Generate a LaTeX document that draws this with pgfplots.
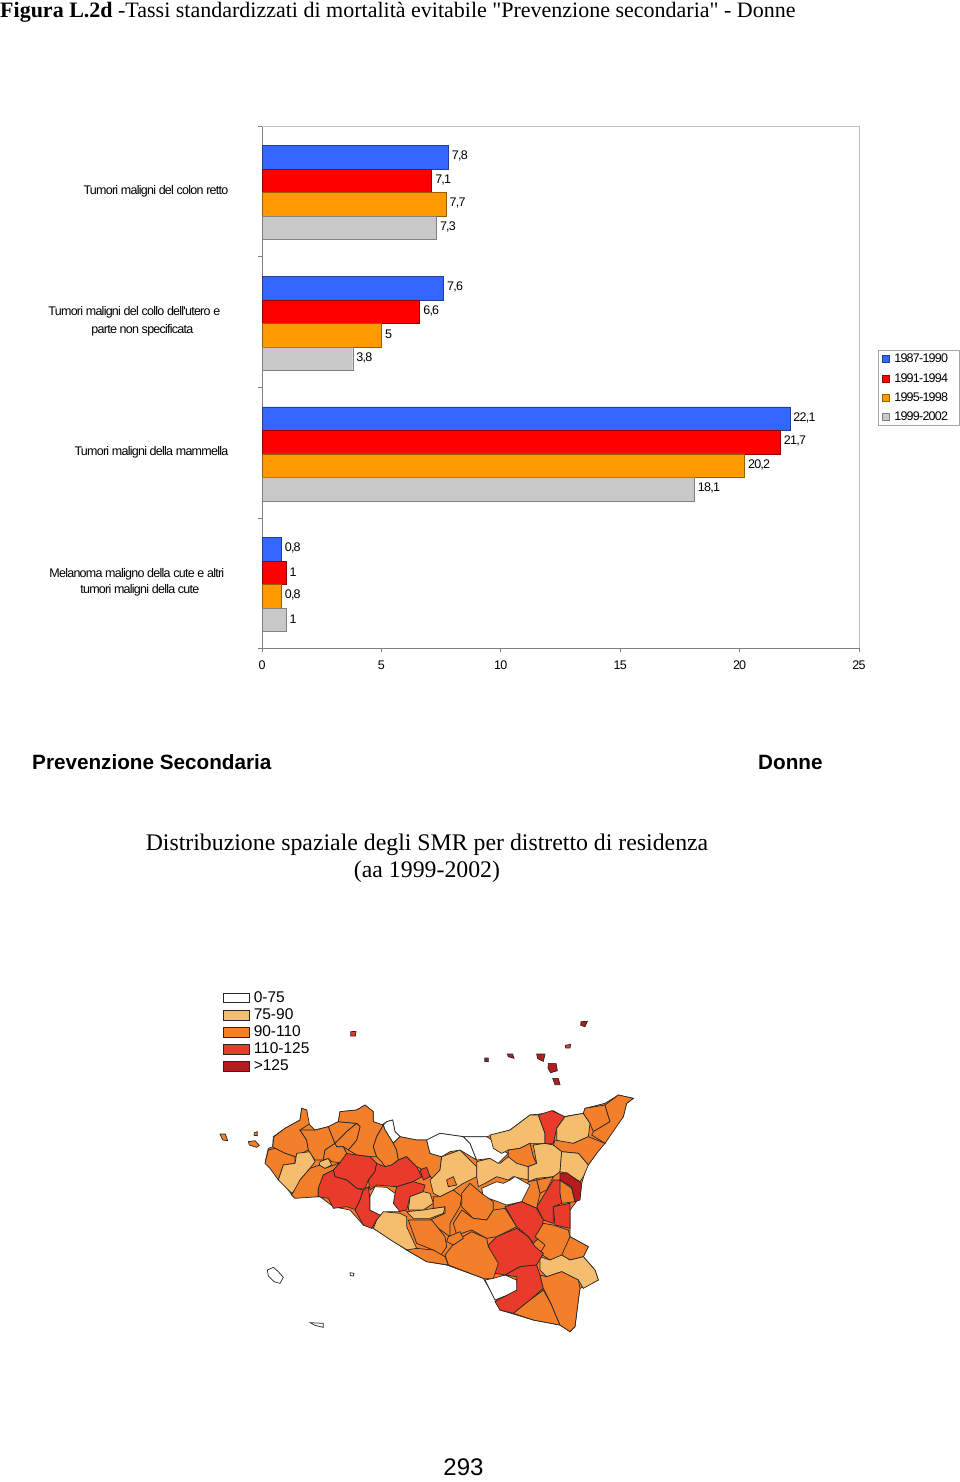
\documentclass[border=0pt]{standalone}
\usepackage{fontspec}
\setmainfont{Liberation Sans}
\newfontfamily\serifttl{Liberation Serif}
\newfontfamily\tight[LetterSpace=-6]{Liberation Sans}
\usepackage{pgfplots}
\pgfplotsset{compat=1.18}

\definecolor{cblue}{HTML}{3366FF}
\definecolor{cred}{HTML}{FF0000}
\definecolor{corange}{HTML}{FF9900}
\definecolor{cgrey}{HTML}{C8C8C8}
\definecolor{axgrey}{HTML}{808080}
\definecolor{mlight}{HTML}{F4BE6E}
\definecolor{morange}{HTML}{F47F2A}
\definecolor{mred}{HTML}{E83B2B}
\definecolor{mdark}{HTML}{B71C1C}

\pgfplotsset{
  m0/.style={forget plot,fill=white,draw=black!85,line width=.7pt},
  m1/.style={forget plot,fill=mlight,draw=black!85,line width=.7pt},
  m2/.style={forget plot,fill=morange,draw=black!85,line width=.7pt},
  m3/.style={forget plot,fill=mred,draw=black!85,line width=.7pt},
  m4/.style={forget plot,fill=mdark,draw=black!85,line width=.7pt},
}

\begin{document}
\begin{tikzpicture}[x=1pt,y=1pt]
\path[use as bounding box] (0,0) rectangle (960,-1482);

% texts around the charts
\node[anchor=base west,inner sep=0pt,font=\serifttl\fontsize{22}{24}\selectfont] at (0,-18)
  {\textbf{Figura L.2d} -Tassi standardizzati di mortalità evitabile "Prevenzione secondaria" - Donne};
\node[anchor=base west,inner sep=0pt,font=\fontsize{20.7}{24}\selectfont\bfseries] at (32,-769) {Prevenzione Secondaria};
\node[anchor=base west,inner sep=0pt,font=\fontsize{20.7}{24}\selectfont\bfseries] at (758,-769) {Donne};
\node[anchor=base,inner sep=0pt,font=\serifttl\fontsize{23.8}{27}\selectfont] at (427,-850) {Distribuzione spaziale degli SMR per distretto di residenza};
\node[anchor=base,inner sep=0pt,font=\serifttl\fontsize{23.8}{27}\selectfont] at (427,-877) {(aa 1999-2002)};
\node[anchor=base,inner sep=0pt,font=\fontsize{24}{27}\selectfont] at (463.5,-1475) {293};

% bar chart
\begin{axis}[
  at={(262pt,-126pt)},anchor=north west,
  scale only axis,width=597pt,height=522pt,
  xbar,bar width=23.5pt,
  xmin=0,xmax=25,
  ymin=-0.51,ymax=3.485,y dir=reverse,
  axis y line*=left,axis x line*=bottom,
  axis line style={draw=axgrey,line width=.8pt,-},
  xtick={0,5,10,15,20,25},
  ytick={0,1,2,3},
  yticklabels={
    {Tumori maligni del colon retto},
    {\begin{tabular}{@{}c@{}}Tumori maligni del collo dell'utero e\\[4pt]\hspace*{16pt}parte non specificata\end{tabular}\kern8pt},
    {Tumori maligni della mammella},
    {\begin{tabular}{@{}c@{}}Melanoma maligno della cute e altri\\[2pt]\hspace*{6pt}tumori maligni della cute\end{tabular}\kern4pt},
  },
  minor ytick={-0.51,0.49,1.49,2.49,3.485},
  tick align=outside,
  major tick length=4pt,minor tick length=4pt,
  y tick style={draw=none},
  minor y tick style={draw=axgrey,line width=.8pt},
  x tick style={draw=axgrey,line width=.8pt},
  x tick label style={font=\tight\fontsize{12.5}{14}\selectfont,yshift=-5pt},
  y tick label style={font=\tight\fontsize{12.5}{14}\selectfont,xshift=-29.5pt,yshift=1.5pt,inner sep=0pt},
  /pgf/number format/assume math mode=true,
  /pgf/number format/use comma,
  /pgf/number format/fixed,
  /pgf/number format/precision=1,
  point meta=x,
  nodes near coords,
  nodes near coords style={font=\tight\fontsize{12.5}{14}\selectfont,anchor=west,yshift=1pt,xshift=0pt,inner xsep=3.5pt},
  clip=false,
  legend image code/.code={\draw[#1,line width=.8pt] (0pt,-3.5pt) rectangle (7pt,3.5pt);},
  legend style={at={(1.0318,0.571)},anchor=north west,draw=axgrey!70,line width=1pt,
    font=\tight\fontsize{12.5}{14}\selectfont,legend cell align=left,
    inner xsep=4pt,inner ysep=1.5pt,row sep=5.2pt,
    /tikz/every odd column/.style={column sep=2pt}},
]
\addplot[fill=cblue,draw=cblue!60!black,bar shift=35.25pt] coordinates {(7.8,0) (7.6,1) (22.1,2) (0.8,3)};
\addplot[fill=cred,draw=cred!60!black,bar shift=11.75pt] coordinates {(7.1,0) (6.6,1) (21.7,2) (1,3)};
\addplot[fill=corange,draw=corange!60!black,bar shift=-11.75pt] coordinates {(7.7,0) (5,1) (20.2,2) (0.8,3)};
\addplot[fill=cgrey,draw=axgrey,bar shift=-35.25pt] coordinates {(7.3,0) (3.8,1) (18.1,2) (1,3)};
\legend{1987-1990\kern5pt,1991-1994\kern5pt,1995-1998\kern5pt,1999-2002\kern5pt}
\draw[draw=black!25,line width=.8pt] (rel axis cs:0,1) -- (rel axis cs:1,1) -- (rel axis cs:1,0);
\end{axis}

% district map, coordinates read in a 3x grid from (200,980)
\begin{axis}[
  at={(200pt,-980pt)},anchor=north west,
  scale only axis,width=450pt,height=360pt,
  xmin=0,xmax=1350,ymin=0,ymax=1080,y dir=reverse,
  hide axis,clip=false,
  legend image code/.code={\draw[#1,line width=.6pt] (0pt,-4.7pt) rectangle (26pt,4.7pt);},
  legend style={at={(0.051,0.973)},anchor=north west,draw=none,fill=none,
    font=\fontsize{15.5}{17}\selectfont,legend cell align=left,
    inner sep=0pt,row sep=0.7pt,
    /tikz/every odd column/.style={column sep=2pt}},
]
\addlegendimage{fill=white,draw=black!85}
\addlegendentry{0-75}
\addlegendimage{fill=mlight,draw=black!85}
\addlegendentry{75-90}
\addlegendimage{fill=morange,draw=black!85}
\addlegendentry{90-110}
\addlegendimage{fill=mred,draw=black!85}
\addlegendentry{110-125}
\addlegendimage{fill=mdark,draw=black!85}
\addlegendentry{>125}
% island outline underneath
\addplot[m2] coordinates {(197,540)(205,505)(218,500)(220,470)(255,445)(300,420)(305,385)(320,390)(325,430)(345,450)(385,440)(415,425)(420,395)(470,390)(495,375)(520,395)(520,425)(545,435)(560,425)(578,420)(585,455)(600,470)(650,480)(680,480)(720,460)(790,470)(860,470)(930,450)(990,405)(1040,400)(1060,392)(1090,410)(1150,400)(1155,385)(1215,370)(1255,345)(1300,355)(1280,370)(1270,410)(1215,470)(1190,520)(1160,560)(1145,610)(1140,650)(1110,690)(1110,770)(1165,800)(1150,830)(1185,870)(1195,900)(1140,925)(1135,960)(1125,1040)(1110,1055)(1080,1035)(1000,1020)(950,1005)(900,990)(885,955)(850,895)(740,855)(680,845)(620,810)(520,745)(490,735)(450,690)(400,680)(360,650)(280,650)(230,585)(210,560)} --cycle;
% west
\addplot[m2] coordinates {(218,500)(222,470)(255,445)(300,420)(305,385)(320,390)(328,432)(300,450)(320,480)(325,510)(285,530)(255,520)(225,505)} --cycle;
\addplot[m2] coordinates {(205,510)(225,505)(255,520)(285,530)(285,550)(250,555)(235,600)(210,565)(195,550)} --cycle;
\addplot[m1] coordinates {(250,555)(285,550)(290,520)(330,515)(345,545)(330,565)(300,600)(295,620)(275,640)(235,600)} --cycle;
\addplot[m2] coordinates {(300,450)(345,450)(385,440)(405,490)(375,510)(370,540)(345,540)(325,510)(320,480)} --cycle;
\addplot[m2] coordinates {(275,645)(300,600)(330,565)(360,555)(375,565)(420,548)(400,570)(370,585)(355,625)(355,650)(285,655)} --cycle;
\addplot[m1] coordinates {(360,545)(385,535)(395,555)(375,565)(358,555)} --cycle;
\addplot[m2] coordinates {(385,440)(415,425)(470,430)(440,455)(405,490)} --cycle;
\addplot[m2] coordinates {(420,395)(470,390)(495,375)(520,395)(520,425)(550,435)(530,470)(520,500)(530,530)(510,530)(470,525)(445,510)(470,480)(480,440)(470,430)(415,425)} --cycle;
\addplot[m2] coordinates {(405,490)(440,455)(470,430)(480,440)(470,480)(445,510)(430,500)(410,500)} --cycle;
\addplot[m2] coordinates {(375,510)(405,490)(410,500)(430,500)(440,520)(430,545)(420,548)(395,545)(385,535)(370,540)} --cycle;
\addplot[m0] coordinates {(550,435)(560,425)(578,420)(585,455)(600,470)(580,490)(555,450)} --cycle;
\addplot[m2] coordinates {(550,435)(555,450)(580,490)(590,510)(595,540)(575,555)(555,560)(545,545)(530,530)(520,500)(530,470)} --cycle;
\addplot[m2] coordinates {(600,470)(650,480)(680,480)(690,520)(725,530)(720,570)(700,600)(680,575)(650,560)(620,530)(595,540)(590,510)(580,490)} --cycle;
\addplot[m3] coordinates {(420,548)(440,520)(470,525)(510,530)(530,550)(525,575)(505,600)(495,625)(470,625)(440,600)(405,590)(400,570)} --cycle;
\addplot[m3] coordinates {(355,625)(370,585)(400,570)(405,590)(440,600)(470,625)(490,630)(480,660)(470,690)(440,680)(400,685)(385,655)(355,650)} --cycle;
\addplot[m3] coordinates {(490,630)(505,620)(510,660)(510,690)(550,710)(530,720)(515,745)(490,735)(465,690)(480,660)} --cycle;
\addplot[m3] coordinates {(530,550)(555,560)(575,555)(595,540)(620,530)(650,560)(665,590)(640,605)(590,620)(530,615)(510,630)(505,600)(525,575)} --cycle;
\addplot[m3] coordinates {(660,570)(680,562)(690,590)(670,600)} --cycle;
\addplot[m3] coordinates {(590,620)(640,605)(675,615)(670,635)(630,650)(620,690)(595,695)(580,670)(585,640)} --cycle;
\addplot[m0] coordinates {(525,620)(560,622)(585,640)(580,670)(600,695)(560,695)(540,705)(510,690)(510,650)} --cycle;
\addplot[m1] coordinates {(550,695)(600,700)(620,710)(620,740)(650,805)(630,815)(580,785)(520,745)(530,720)} --cycle;
\addplot[m1] coordinates {(630,650)(670,635)(690,640)(700,670)(670,690)(625,690)} --cycle;
\addplot[m1] coordinates {(620,695)(670,690)(700,685)(735,680)(730,700)(690,715)(640,715)} --cycle;
% centre
\addplot[m1] coordinates {(725,530)(780,510)(830,560)(830,590)(790,610)(760,630)(720,650)(700,640)(690,600)(720,570)} --cycle;
\addplot[m2] coordinates {(740,600)(760,590)(770,615)(745,620)} --cycle;
\addplot[m1] coordinates {(830,545)(870,535)(900,550)(925,530)(985,560)(985,600)(940,590)(925,600)(890,590)(855,610)(835,620)(830,590)} --cycle;
\addplot[m0] coordinates {(680,480)(720,460)(790,470)(810,490)(830,540)(780,510)(750,515)(725,530)(690,520)} --cycle;
\addplot[m0] coordinates {(790,470)(860,470)(875,480)(880,500)(925,520)(895,550)(870,535)(830,540)(810,490)} --cycle;
% north east
\addplot[m1] coordinates {(870,465)(930,450)(990,405)(1015,405)(1035,460)(1035,490)(990,490)(960,505)(925,510)(905,520)(880,505)} --cycle;
\addplot[m3] coordinates {(1015,405)(1055,392)(1095,410)(1070,445)(1060,490)(1035,490)(1035,460)} --cycle;
\addplot[m1] coordinates {(1095,410)(1150,400)(1170,430)(1165,470)(1120,490)(1090,490)(1070,480)(1070,445)} --cycle;
\addplot[m2] coordinates {(1155,385)(1215,375)(1230,425)(1180,455)(1170,430)(1150,400)} --cycle;
\addplot[m2] coordinates {(1215,375)(1255,345)(1300,355)(1280,370)(1270,410)(1215,490)(1175,465)(1180,455)(1230,425)} --cycle;
\addplot[m2] coordinates {(1065,480)(1120,490)(1165,470)(1215,490)(1190,520)(1165,555)(1135,520)(1085,515)(1060,495)} --cycle;
\addplot[m2] coordinates {(925,510)(960,505)(990,490)(1000,530)(1010,550)(985,560)(950,550)(925,530)} --cycle;
\addplot[m1] coordinates {(1000,495)(1035,490)(1060,495)(1085,515)(1080,575)(1060,590)(1010,595)(985,605)(985,560)(1010,550)} --cycle;
\addplot[m1] coordinates {(1085,515)(1135,520)(1165,555)(1150,590)(1140,605)(1100,580)(1080,575)} --cycle;
\addplot[m2] coordinates {(1080,600)(1115,625)(1125,665)(1085,670)(1078,640)} --cycle;
\addplot[m4] coordinates {(1080,580)(1100,578)(1145,610)(1140,660)(1125,665)(1115,620)(1080,600)} --cycle;
\addplot[m3] coordinates {(1060,680)(1110,670)(1110,745)(1065,735)} --cycle;
\addplot[m3] coordinates {(1060,600)(1080,600)(1080,640)(1085,670)(1060,680)(1060,730)(1030,720)(1010,680)(1035,640)} --cycle;
\addplot[m2] coordinates {(1010,600)(1060,590)(1040,630)(1020,640)} --cycle;
\addplot[m2] coordinates {(985,605)(1010,600)(1020,640)(1010,685)(965,665)} --cycle;
\addplot[m0] coordinates {(845,625)(890,605)(910,610)(930,600)(945,590)(990,615)(965,665)(920,675)(880,660)(850,650)} --cycle;
\addplot[m2] coordinates {(810,610)(845,640)(880,665)(880,690)(860,720)(820,715)(785,680)(785,640)} --cycle;
\addplot[m2] coordinates {(700,650)(720,650)(760,630)(785,650)(780,680)(750,730)(750,770)(715,745)(690,720)(735,700)(735,680)(700,685)} --cycle;
\addplot[m2] coordinates {(760,730)(785,690)(820,715)(860,720)(880,690)(915,685)(950,740)(890,770)(860,775)(815,750)(770,765)} --cycle;
\addplot[m3] coordinates {(915,680)(965,665)(1010,685)(1030,720)(1020,770)(1000,790)(985,770)(950,740)} --cycle;
% south
\addplot[m2] coordinates {(1005,770)(1030,730)(1060,735)(1105,750)(1110,770)(1090,830)(1050,840)(1020,820)(1035,795)} --cycle;
\addplot[m2] coordinates {(1110,770)(1165,800)(1150,830)(1110,840)(1085,825)} --cycle;
\addplot[m1] coordinates {(1020,830)(1050,840)(1085,825)(1110,840)(1150,830)(1185,870)(1195,900)(1150,925)(1135,900)(1085,875)(1040,890)(1020,870)} --cycle;
\addplot[m3] coordinates {(865,795)(890,770)(950,745)(985,770)(1005,800)(1030,820)(1010,855)(960,860)(915,885)(885,880)} --cycle;
\addplot[m2] coordinates {(735,825)(770,780)(815,755)(860,775)(865,800)(895,850)(880,895)(850,895)(745,855)} --cycle;
\addplot[m2] coordinates {(625,720)(695,720)(735,770)(740,800)(720,830)(700,810)(650,790)} --cycle;
\addplot[m2] coordinates {(745,770)(780,755)(790,775)(760,795)(740,785)} --cycle;
\addplot[m2] coordinates {(620,810)(650,805)(700,810)(735,830)(745,855)(680,845)} --cycle;
\addplot[m0] coordinates {(855,900)(880,895)(915,885)(950,900)(955,935)(910,950)(885,960)} --cycle;
\addplot[m3] coordinates {(885,965)(950,930)(950,890)(915,885)(960,860)(1010,855)(1020,885)(1030,925)(990,960)(940,1000)(900,990)} --cycle;
\addplot[m2] coordinates {(940,1000)(990,960)(1030,930)(1055,975)(1065,1000)(1080,1035)(1000,1020)} --cycle;
\addplot[m2] coordinates {(1040,890)(1085,875)(1135,900)(1140,925)(1135,960)(1125,1040)(1110,1055)(1080,1035)(1065,1000)(1055,975)(1030,925)(1020,885)} --cycle;
% islands
\addplot[m0] coordinates {(202,870)(220,862)(235,875)(250,892)(240,910)(222,905)(205,888)} --cycle;
\addplot[m0] coordinates {(330,1028)(370,1030)(370,1042)(345,1036)} --cycle;
\addplot[m0] coordinates {(450,878)(462,880)(460,888)(451,887)} --cycle;
\addplot[m2] coordinates {(60,462)(76,462)(83,482)(68,480)} --cycle;
\addplot[m2] coordinates {(145,485)(165,482)(178,496)(170,502)(148,495)} --cycle;
\addplot[m2] coordinates {(163,458)(172,455)(172,467)(162,466)} --cycle;
\addplot[m3] coordinates {(452,155)(468,154)(466,168)(452,168)} --cycle;
\addplot[m4] coordinates {(1143,125)(1162,124)(1155,140)(1142,136)} --cycle;
\addplot[m3] coordinates {(1096,196)(1112,193)(1110,204)(1097,204)} --cycle;
\addplot[m4] coordinates {(922,222)(938,222)(942,235)(925,230)} --cycle;
\addplot[m4] coordinates {(854,234)(865,234)(865,245)(854,244)} --cycle;
\addplot[m4] coordinates {(1010,222)(1035,222)(1030,244)(1013,236)} --cycle;
\addplot[m4] coordinates {(1045,250)(1068,250)(1072,272)(1052,278)(1044,265)} --cycle;
\addplot[m4] coordinates {(1058,295)(1075,295)(1080,314)(1065,314)} --cycle;
\end{axis}
\end{tikzpicture}
\end{document}
